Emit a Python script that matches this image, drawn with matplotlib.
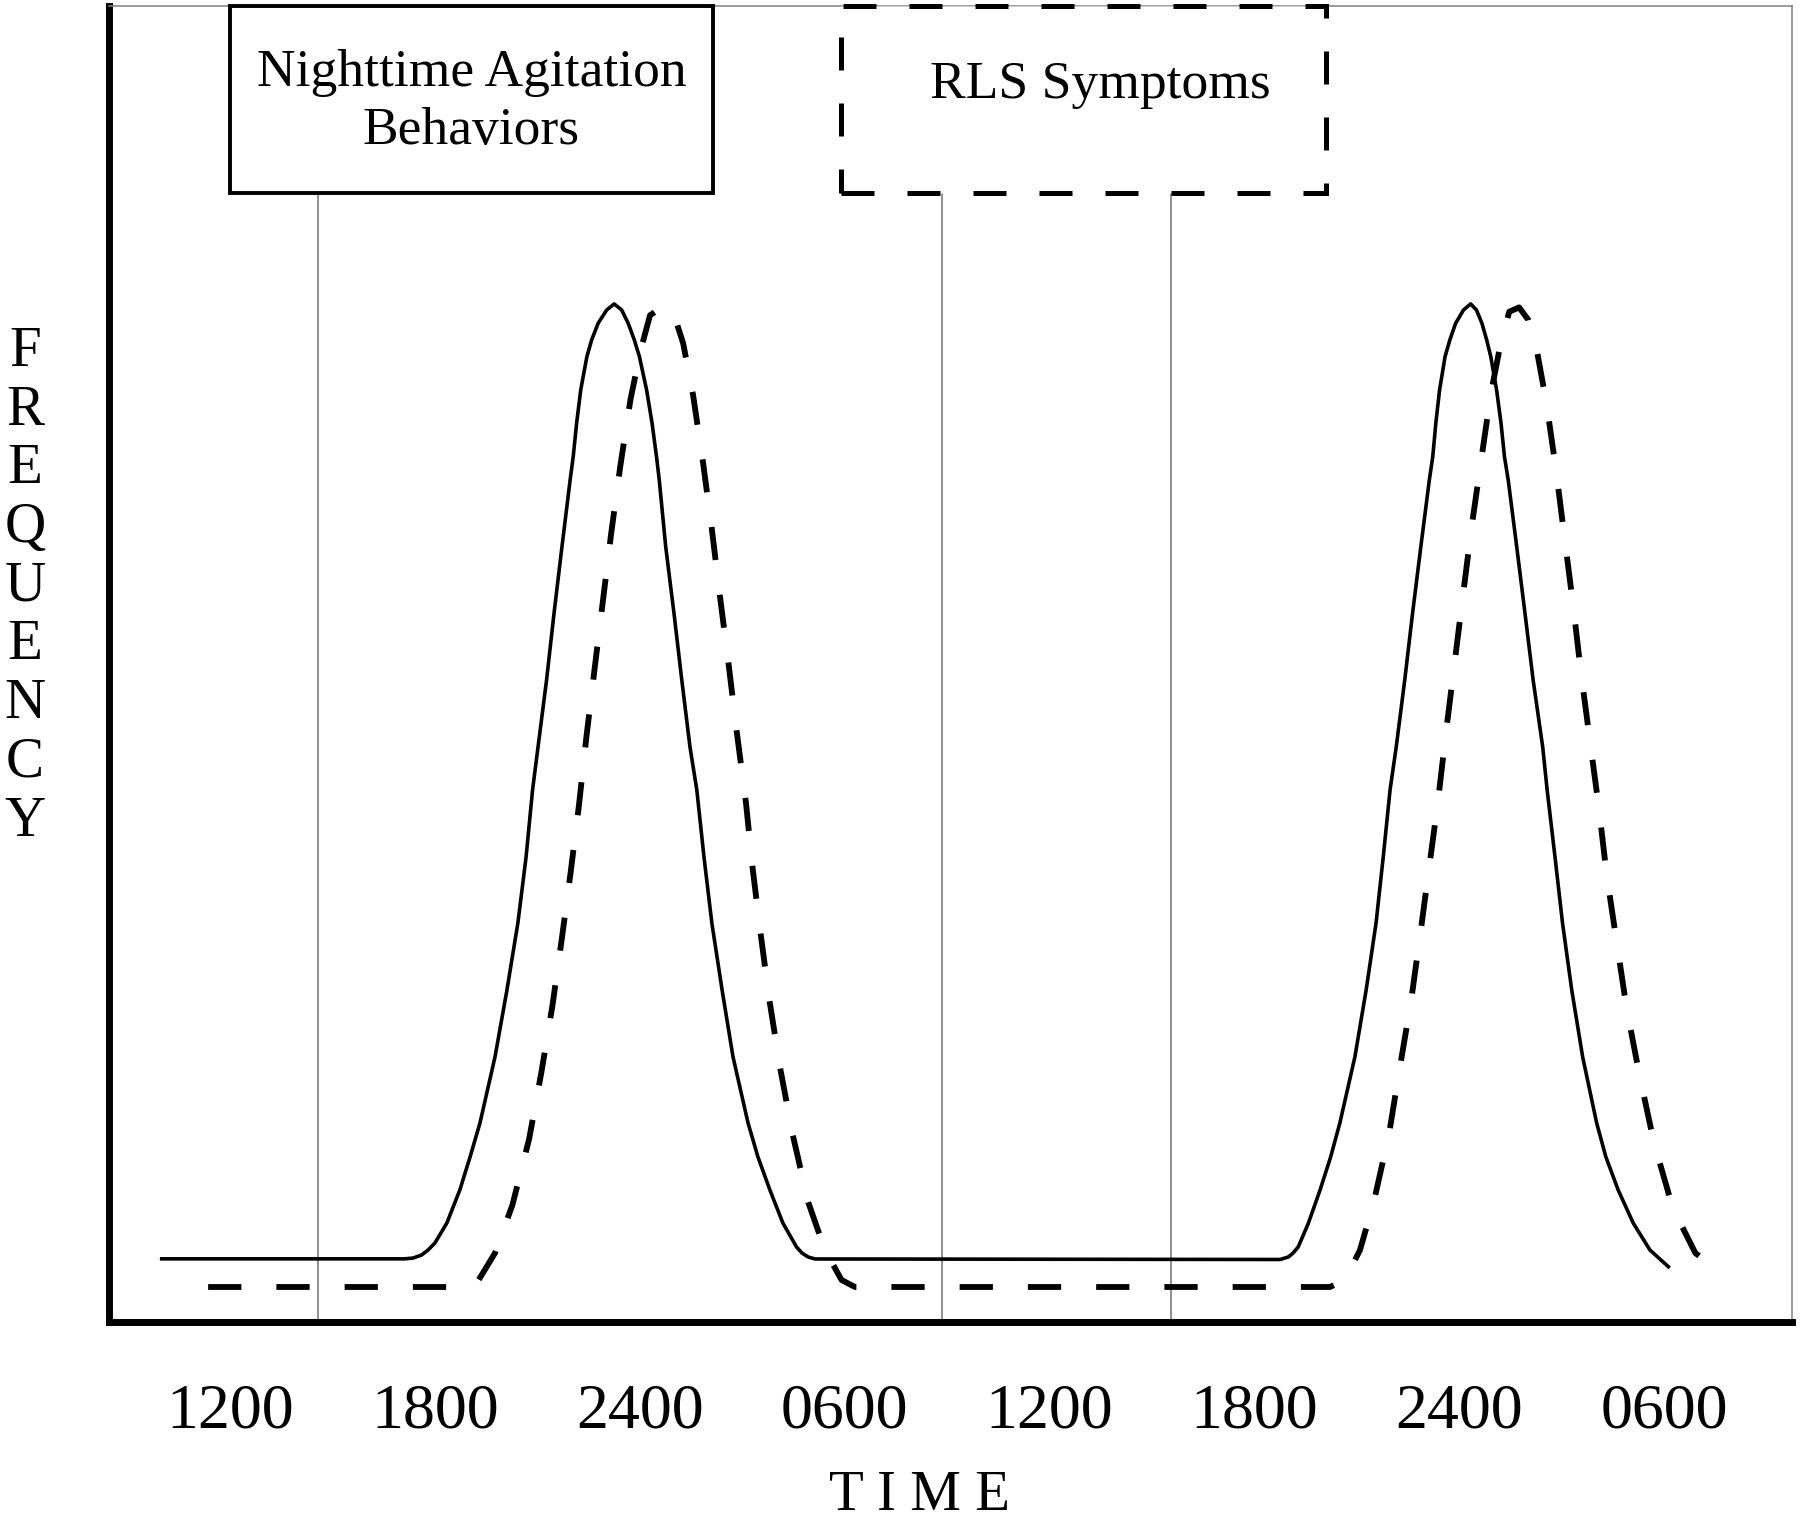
import matplotlib
matplotlib.use("Agg")
import matplotlib.pyplot as plt
from matplotlib.patches import Rectangle

plt.rcParams['font.family'] = ['Liberation Serif', 'DejaVu Serif']

# time axis in hours (12 = noon of day one, 54 = 0600 of day three)
tick_hours = [12, 18, 24, 30, 36, 42, 48, 54]
tick_labels = ['1200', '1800', '2400', '0600', '1200', '1800', '2400', '0600']

# nighttime agitation behaviors (solid curve)
agit_hours = [10.0, 17.12, 17.36, 17.61, 17.80, 18.00, 18.35, 18.73, 19.03, 19.32,
              19.76, 20.11, 20.43, 20.67, 20.86, 21.02, 21.27, 21.49, 21.72, 21.96,
              22.05, 22.15, 22.27, 22.45, 22.59, 22.78, 23.03, 23.25, 23.47, 23.66,
              23.84, 23.99, 24.20, 24.36, 24.49, 24.57, 24.76, 25.00, 25.23, 25.47,
              25.67, 25.88, 26.11, 26.41, 26.73, 27.17, 27.46, 27.81, 28.19, 28.59,
              28.75, 28.93, 29.13, 42.75, 42.99, 43.13, 43.28, 43.58, 43.92, 44.23,
              44.50, 44.94, 45.27, 45.56, 45.77, 45.97, 46.15, 46.40, 46.63, 46.87,
              47.12, 47.22, 47.31, 47.42, 47.58, 47.72, 47.89, 48.12, 48.33, 48.50,
              48.66, 48.80, 48.92, 49.09, 49.22, 49.32, 49.43, 49.68, 49.92, 50.16,
              50.44, 50.57, 50.80, 51.02, 51.29, 51.61, 52.02, 52.29, 52.65, 53.09,
              53.58, 54.12]
agit_freq = [4.8, 4.8, 4.86, 5.09, 5.47, 6.00, 7.52, 10.03, 12.54, 15.12,
             20.14, 25.23, 30.32, 35.33, 40.43, 43.69, 48.78, 53.88, 58.89, 63.98,
             65.75, 68.29, 70.82, 73.35, 74.62, 75.89, 76.90, 77.36, 76.90, 75.89,
             74.62, 73.35, 70.82, 68.29, 65.75, 63.98, 58.89, 53.88, 48.78, 43.69,
             40.43, 35.33, 30.32, 25.23, 20.14, 15.12, 12.54, 10.03, 7.52, 5.70,
             5.24, 4.94, 4.79, 4.75, 4.94, 5.24, 5.70, 7.52, 10.03, 12.54,
             15.12, 20.14, 25.23, 30.32, 35.33, 40.43, 43.69, 48.78, 53.88, 58.89,
             63.98, 65.75, 68.29, 70.82, 73.35, 74.62, 75.89, 76.90, 77.36, 76.90,
             75.89, 74.62, 73.35, 70.82, 68.29, 65.75, 63.98, 58.89, 53.88, 48.78,
             43.69, 40.43, 35.33, 30.32, 25.23, 20.14, 15.12, 12.54, 10.03, 7.52,
             5.47, 4.20]

# RLS symptoms (dashed curve)
rls_hours = [11.36, 18.9, 19.25, 19.76, 20.27, 20.76, 21.12, 21.44, 21.72, 21.98,
             22.22, 22.44, 22.68, 22.92, 23.16, 23.43, 23.73, 24.03, 24.30, 24.64,
             24.98, 25.27, 25.56, 25.85, 26.11, 26.35, 26.60, 26.84, 27.11, 27.30,
             27.54, 27.80, 28.11, 28.48, 28.93, 29.42, 29.91, 30.3, 44.21, 44.65,
             45.09, 45.50, 45.94, 46.26, 46.59, 46.86, 47.12, 47.37, 47.61, 47.86,
             48.10, 48.35, 48.63, 48.92, 49.21, 49.46, 49.75, 50.02, 50.28, 50.55,
             50.83, 51.08, 51.33, 51.56, 51.82, 52.08, 52.32, 52.61, 52.90, 53.28,
             53.70, 54.25, 54.91, 55.53]
rls_freq = [2.66, 2.66, 3.06, 5.24, 8.89, 13.91, 19.00, 24.01, 29.18, 34.27,
            39.29, 44.53, 49.70, 54.79, 59.88, 65.05, 70.14, 73.9, 76.5, 77.1,
            76.72, 74.37, 70.44, 65.35, 60.26, 55.09, 50.00, 44.83, 39.44, 34.57,
            29.48, 24.39, 19.30, 14.21, 9.12, 5.47, 3.19, 2.66, 2.66, 3.19,
            5.47, 9.19, 14.29, 19.38, 24.47, 29.56, 34.65, 39.48, 44.86, 50.08,
            55.11, 60.26, 65.35, 70.52, 74.37, 76.77, 77.1, 76.14, 73.66, 69.83,
            64.74, 59.57, 54.48, 49.34, 44.22, 39.16, 33.84, 28.80, 23.78, 18.69,
            13.60, 8.66, 5.24, 4.00]

# thin grey dividers hanging from the label boxes
divider_hours = [14.58, 32.85, 39.57]

fig = plt.figure(figsize=(18, 15.2), dpi=100)
ax = fig.add_axes([109 / 1800, 1 - 1322 / 1520, 1683 / 1800, 1316 / 1520])
ax.set_xlim(8.457, 57.74)
ax.set_ylim(0, 100)

for side in ['left', 'bottom']:
    ax.spines[side].set_linewidth(5)
    ax.spines[side].set_color('black')
for side in ['top', 'right']:
    ax.spines[side].set_linewidth(1.1)
    ax.spines[side].set_color('#808080')

ax.vlines(divider_hours, 0, 85.8, colors='#707070', linewidth=1.1, zorder=1)

ax.plot(agit_hours, agit_freq, color='black', linewidth=2.6,
        solid_joinstyle='round', zorder=4)
ax.plot(rls_hours, rls_freq, color='black', linewidth=4.2,
        linestyle=(0, (5.7, 6.0)), dash_capstyle='butt', zorder=4)

# label boxes
box1 = Rectangle((12.0, 85.8), 14.14, 14.2, facecolor='white', edgecolor='black',
                 linewidth=2.8, clip_on=False, zorder=5)
box2 = Rectangle((29.89, 85.8), 14.2, 14.2, facecolor='white', edgecolor='black',
                 linewidth=3.6, linestyle=(0, (6.6, 6.6)), clip_on=False, zorder=5)
ax.add_patch(box1)
ax.add_patch(box2)
ax.text(19.07, 92.7, 'Nighttime Agitation\nBehaviors', ha='center', va='center',
        fontsize=38.5, linespacing=1.25, zorder=6)
ax.text(37.48, 93.97, 'RLS Symptoms', ha='center', va='center', fontsize=38.5, zorder=6)

ax.set_xticks(tick_hours)
ax.set_xticklabels(tick_labels, fontsize=46)
ax.tick_params(axis='x', length=0, pad=44)
ax.set_yticks([])

fig.text(920 / 1800, 1 - 1496 / 1520, 'T I M E', ha='center', va='center', fontsize=41)
for i, letter in enumerate('FREQUENCY'):
    fig.text(25 / 1800, 1 - (352 + 58.7 * i) / 1520, letter, ha='center', va='center',
             fontsize=41)

fig.savefig('out.png', dpi=100)
